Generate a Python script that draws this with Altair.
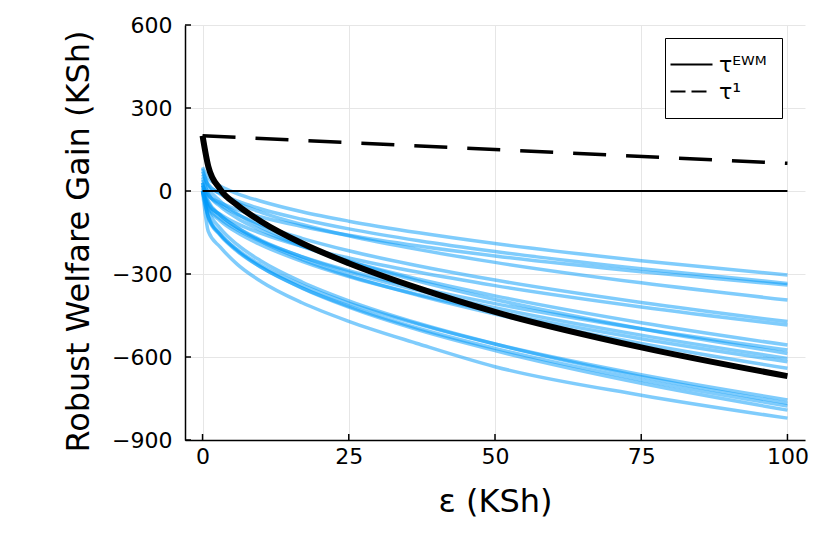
import altair as alt
import pandas as pd

# ---------------- data ----------------
x_grid = [0, 1, 3, 6, 10, 17, 25, 37, 50, 75, 100]

blue_series = [
    [86, 47, 18, -10, -37, -75, -109, -151, -190, -252, -304],
    [60, 21, -8, -37, -65, -102, -137, -180, -219, -281, -334],
    [20, -16, -42, -68, -94, -128, -160, -199, -235, -292, -340],
    [70, 24, -10, -44, -77, -121, -162, -212, -258, -332, -394],
    [40, -11, -49, -85, -122, -171, -216, -271, -322, -403, -472],
    [0, -48, -84, -119, -153, -200, -242, -294, -342, -419, -484],
    [50, -11, -55, -99, -142, -200, -254, -319, -379, -476, -557],
    [0, -58, -100, -141, -182, -237, -288, -350, -407, -498, -575],
    [80, 13, -36, -83, -131, -195, -254, -326, -392, -498, -587],
    [20, -43, -88, -133, -178, -238, -293, -360, -422, -521, -605],
    [0, -62, -107, -151, -195, -254, -309, -375, -436, -534, -617],
    [30, -37, -86, -134, -182, -247, -306, -378, -445, -551, -641],
    [0, -95, -156, -213, -268, -340, -405, -482, -553, -664, -755],
    [30, -70, -134, -195, -253, -329, -397, -479, -553, -671, -767],
    [0, -98, -160, -219, -276, -350, -416, -497, -569, -683, -777],
    [10, -91, -155, -216, -275, -351, -420, -503, -577, -695, -792],
    [0, -147, -202, -266, -327, -404, -471, -553, -635, -738, -821],
]

tau_ewm_v = [200, 88, 7, -52, -110, -189, -261, -352, -437, -565, -669]
tau1_x = [0, 100]
tau1_v = [200, 100]
zero_x = [0, 100]
zero_v = [0, 0]

x_ticks = [0, 25, 50, 75, 100]
y_ticks = [-900, -600, -300, 0, 300, 600]

ewm_label = "τᴱᵂᴹ"
one_label = "τ¹"

# ---------------- tables ----------------
rows = []
for i, s in enumerate(blue_series):
    for x, v in zip(x_grid, s):
        rows.append({"x": x, "v": v, "id": i})
blue_df = pd.DataFrame(rows)

ewm_df = pd.DataFrame({"x": x_grid, "v": tau_ewm_v, "s": ewm_label})
one_df = pd.DataFrame({"x": tau1_x, "v": tau1_v, "s": one_label})
tau_df = pd.concat([ewm_df, one_df], ignore_index=True)
zero_df = pd.DataFrame({"x": zero_x, "v": zero_v})
xt_df = pd.DataFrame({"x": x_ticks})
yt_df = pd.DataFrame({"v": y_ticks})

FONT = "DejaVu Sans"
W, H = 620, 415

xs = alt.Scale(domain=[-3, 103], nice=False, zero=False)
ys = alt.Scale(domain=[-900, 600], nice=False, zero=False)

xaxis = alt.Axis(values=x_ticks, title="ε (KSh)", format="d",
                 titleX=W / 2, titleY=71, titleBaseline="alphabetic",
                 labelPadding=6)
yaxis = alt.Axis(values=y_ticks, title="Robust Welfare Gain (KSh)", format="d",
                 titleX=-97, titleY=216, titleBaseline="alphabetic",
                 labelPadding=13)

X = alt.X("x:Q", scale=xs, axis=xaxis)
Y = alt.Y("v:Q", scale=ys, axis=yaxis)

blue = alt.Chart(blue_df).mark_line(
    color="#009AFA", strokeWidth=3.5, opacity=0.5, interpolate="monotone"
).encode(x=X, y=Y, detail="id:N")

ewm_line = alt.Chart(ewm_df).mark_line(
    color="black", strokeWidth=6, interpolate="monotone"
).encode(x=X, y=Y)

one_line = alt.Chart(one_df).mark_line(
    color="black", strokeWidth=3.5, strokeDash=[33, 20]
).encode(x=X, y=Y)

zero_line = alt.Chart(zero_df).mark_line(color="black", strokeWidth=2).encode(x=X, y=Y)

legend_layer = alt.Chart(tau_df).transform_filter("datum.v > 100000").mark_line(
    color="black", strokeWidth=2
).encode(
    x=X, y=Y,
    strokeDash=alt.StrokeDash(
        "s:N",
        scale=alt.Scale(domain=[ewm_label, one_label], range=[[1, 0], [15, 6]]),
        legend=alt.Legend(
            title=None, orient="none", legendX=480, legendY=13,
            symbolType="M-2,0H2", symbolSize=441, symbolStrokeWidth=2,
            symbolStrokeColor="black", labelFont=FONT, labelFontSize=22,
            labelColor="black", padding=15, rowPadding=4, labelOffset=16,
            fillColor="white", strokeColor="black", direction="vertical",
        ),
    ),
)

xtick_marks = alt.Chart(xt_df).mark_rule(color="black", strokeWidth=1.5).encode(
    x=X, y=alt.value(H), y2=alt.value(H - 6)
)
ytick_marks = alt.Chart(yt_df).mark_rule(color="black", strokeWidth=1.5).encode(
    y=Y, x=alt.value(0), x2=alt.value(6)
)

chart = alt.layer(
    blue, ewm_line, one_line, zero_line, legend_layer, xtick_marks, ytick_marks
).properties(
    width=W, height=H,
    autosize=alt.AutoSizeParams(type="none"),
    padding={"left": 177, "top": 17, "right": 10, "bottom": 80},
    background="white",
).configure_view(stroke=None).configure_axis(
    labelFont=FONT, labelFontSize=22, labelColor="black",
    titleFont=FONT, titleFontSize=32, titleFontWeight="normal", titleColor="black",
    domainColor="black", domainWidth=1.5, ticks=False,
    gridColor="#e6e6e6", gridWidth=1,
)

chart.save("out.html", embed_options={"renderer": "svg", "actions": False})
